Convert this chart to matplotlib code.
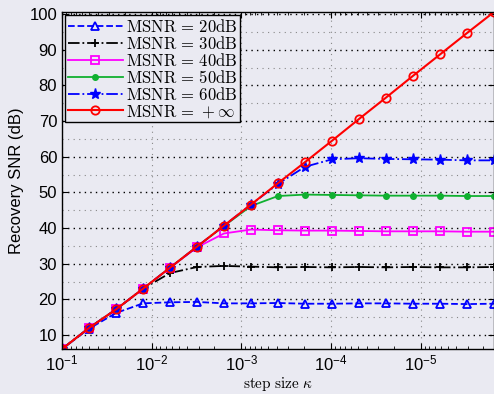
import numpy as np
import matplotlib
matplotlib.use('Agg')
import matplotlib.pyplot as plt
from matplotlib.ticker import MultipleLocator, LogLocator, NullFormatter

# step size kappa: halved at each point
kappa = [0.1 / 2 ** k for k in range(17)]

snr_20 = [6.1, 11.8, 16.2, 18.9, 19.2, 19.3, 18.9, 18.9, 19.0, 18.8, 18.8, 18.9, 18.9, 18.8, 18.8, 18.7, 18.8]
snr_30 = [6.1, 12.0, 17.2, 23.0, 27.4, 29.1, 29.4, 29.2, 29.0, 29.1, 29.0, 29.1, 29.0, 29.1, 29.0, 29.0, 29.1]
snr_40 = [6.1, 12.0, 17.2, 23.0, 28.9, 34.6, 38.5, 39.6, 39.4, 39.3, 39.3, 39.2, 39.1, 39.1, 39.1, 39.0, 39.0]
snr_50 = [6.1, 12.0, 17.2, 23.0, 28.9, 34.8, 40.6, 46.2, 49.0, 49.4, 49.3, 49.2, 49.1, 49.1, 49.1, 49.0, 49.0]
snr_60 = [6.1, 12.0, 17.2, 23.0, 28.9, 34.8, 40.7, 46.6, 52.4, 57.2, 59.3, 59.6, 59.4, 59.3, 59.2, 59.0, 59.0]
snr_inf = [6.1, 12.0, 17.2, 23.0, 28.9, 34.8, 40.7, 46.6, 52.6, 58.5, 64.5, 70.6, 76.6, 82.7, 88.7, 94.7, 100.6]

labels = [r'$\mathrm{MSNR}\,=\,20\mathrm{dB}$', r'$\mathrm{MSNR}\,=\,30\mathrm{dB}$',
          r'$\mathrm{MSNR}\,=\,40\mathrm{dB}$', r'$\mathrm{MSNR}\,=\,50\mathrm{dB}$',
          r'$\mathrm{MSNR}\,=\,60\mathrm{dB}$', r'$\mathrm{MSNR}\,=\,+\infty$']

plt.rcParams['mathtext.fontset'] = 'cm'
plt.rcParams['font.family'] = ['Liberation Sans', 'DejaVu Sans']

bg = '#eaeaf2'
fig = plt.figure(figsize=(4.94, 3.94), dpi=100, facecolor=bg)
ax = fig.add_axes([0.1255, 0.1142, 0.8745, 0.8553])
ax.set_facecolor(bg)

ax.plot(kappa, snr_20, '--', color='#0000ff', marker='^', mfc='none', mew=1.3, ms=6, lw=1.3, label=labels[0])
ax.plot(kappa, snr_30, '-.', color='black', marker='+', mew=1.3, ms=6, lw=1.3, label=labels[1])
ax.plot(kappa, snr_40, '-', color='#ff00ff', marker='s', mfc='none', mew=1.3, ms=6, lw=1.3, label=labels[2])
ax.plot(kappa, snr_50, '-', color='#10b030', marker='.', ms=8, lw=1.3, label=labels[3])
ax.plot(kappa, snr_60, '-.', color='#0000ff', marker='*', ms=8, lw=1.3, label=labels[4])
ax.plot(kappa, snr_inf, '-', color='#ff0000', marker='o', mfc='none', mew=1.3, ms=6, lw=1.5, label=labels[5])

ax.set_xscale('log')
ax.set_xlim(kappa[0], kappa[-1])
ax.set_ylim(snr_inf[0], snr_inf[-1])
ax.xaxis.set_major_locator(LogLocator(base=10, numticks=10))
ax.xaxis.set_minor_locator(LogLocator(base=10, subs=np.arange(2, 10), numticks=20))
ax.xaxis.set_minor_formatter(NullFormatter())
ax.yaxis.set_major_locator(MultipleLocator(10))
ax.yaxis.set_minor_locator(MultipleLocator(5))

ax.grid(True, which='major', axis='y', color='black', linestyle=(0, (1, 3)), lw=1.0)
ax.grid(True, which='minor', axis='y', color='#888888', linestyle=(0, (1, 4)), lw=0.8)
ax.grid(True, which='major', axis='x', color='#888888', linestyle=(0, (1, 4)), lw=0.8)

ax.tick_params(which='both', direction='in', top=True, right=True, labelsize=12)
ax.tick_params(which='major', length=4)
ax.tick_params(which='minor', length=2)
ax.tick_params(axis='y', which='minor', length=0)
for s in ax.spines.values():
    s.set_linewidth(1.0)

ax.set_ylabel('Recovery SNR (dB)', fontsize=12)
ax.set_xlabel(r'$\mathrm{step\ size}\ \kappa$', fontsize=11, labelpad=1)

leg = ax.legend(loc='upper left', fontsize=12, frameon=True, fancybox=False, framealpha=1,
                facecolor=bg, edgecolor='black', handlelength=3.3, borderpad=0.15,
                labelspacing=0.0, handletextpad=0.2, borderaxespad=0.2)
leg.get_frame().set_linewidth(1.0)

fig.savefig('out.png', dpi=100, facecolor=bg)
